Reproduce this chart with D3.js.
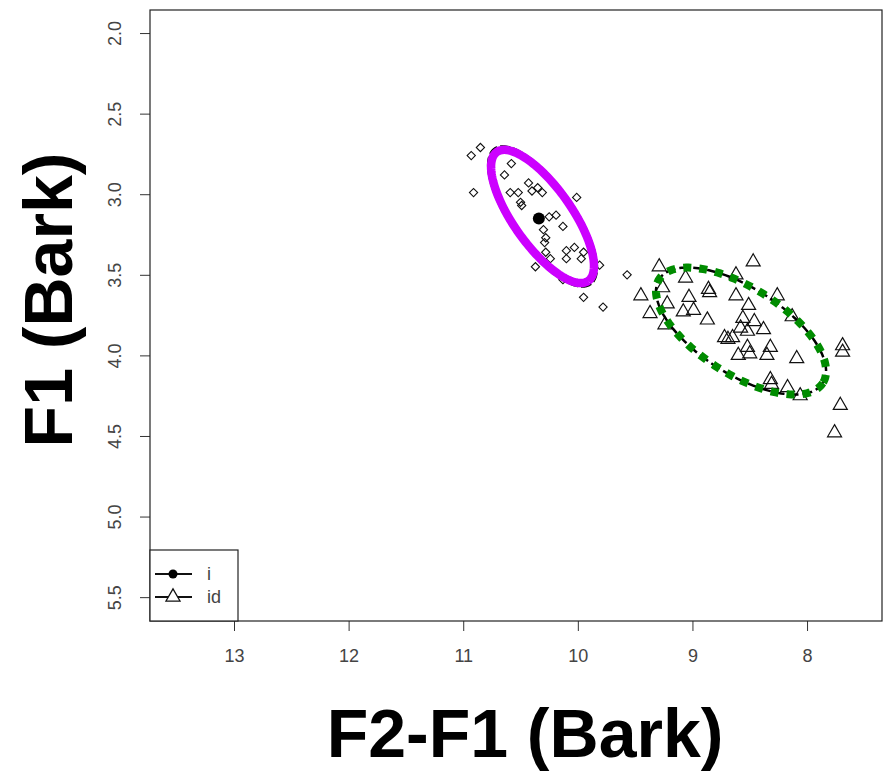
<!DOCTYPE html>
<html><head><meta charset="utf-8">
<script src="https://cdn.jsdelivr.net/npm/d3@7"></script>
<style>body{margin:0;background:#fff}svg{display:block}</style>
</head><body>
<svg id="chart" width="884" height="773"></svg>
<script>
// ---- data (F2-F1 Bark on x, F1 Bark on y) ----
const iX = [10.85,10.93,10.58,10.91,10.64,10.59,10.52,10.50,10.49,10.43,10.40,10.35,10.31,10.01,10.25,10.19,10.13,10.30,10.28,10.29,10.28,10.24,10.10,10.03,9.95,10.10,9.97,9.81,10.37,10.13,9.95,9.78,9.57];
const iY = [2.71,2.76,2.81,2.99,2.88,2.99,2.99,3.05,3.07,2.93,2.98,2.96,2.99,3.02,3.14,3.13,3.20,3.22,3.27,3.30,3.36,3.40,3.35,3.33,3.36,3.40,3.40,3.44,3.45,3.53,3.64,3.70,3.50];
const idX = [9.29,8.47,8.62,9.06,9.26,9.45,9.03,8.86,8.85,8.62,8.26,8.51,9.22,9.37,9.08,8.99,8.87,9.24,8.56,8.46,8.58,8.52,8.38,8.13,8.72,8.65,8.69,8.52,8.32,8.60,8.50,8.35,8.09,7.69,7.69,8.32,8.31,8.17,8.06,7.71,7.76];
const idY = [3.45,3.42,3.50,3.52,3.58,3.63,3.64,3.59,3.61,3.63,3.63,3.69,3.68,3.74,3.73,3.72,3.78,3.81,3.77,3.79,3.83,3.85,3.84,3.76,3.89,3.89,3.90,3.95,3.95,4.00,3.99,4.00,4.02,3.94,3.98,4.15,4.18,4.20,4.25,4.31,4.48];
const iMean = [10.34, 3.15];
// ellipses: center, semi-major vector, semi-minor vector (data units)
const iEllipse  = {c:[10.308,3.138], u:[-0.399,0.400], v:[0.206,0.104]};
const idEllipse = {c:[8.576,3.849],  u:[-0.714,0.322], v:[0.202,0.227]};
const xTicks = [13,12,11,10,9,8];
const yTicks = [2.0,2.5,3.0,3.5,4.0,4.5,5.0,5.5];
const legendLabels = ["i","id"];
const xTitle = "F2-F1 (Bark)";
const yTitle = "F1 (Bark)";

// ---- layout ----
const L=150, T=10, R=882, B=621;
const svg = d3.select("#chart");
const x = d3.scaleLinear().domain([13.733,7.346]).range([L,R]);
const y = d3.scaleLinear().domain([1.857,5.648]).range([T,B]);
const font = "Liberation Sans, Arial, Helvetica, sans-serif";

// axes
const xAxis = d3.axisBottom(x).tickValues(xTicks).tickSize(10).tickPadding(18).tickFormat(d3.format("d"));
const gx = svg.append("g").attr("transform",`translate(0,${B})`).call(xAxis);
gx.select(".domain").remove();
gx.selectAll("line").attr("stroke","#333").attr("stroke-width",1);
gx.selectAll("text").attr("font-family",font).attr("font-size",18).attr("fill","#444");

const yAxis = d3.axisLeft(y).tickValues(yTicks).tickSize(10).tickFormat(d3.format(".1f"));
const gy = svg.append("g").attr("transform",`translate(${L},0)`).call(yAxis);
gy.select(".domain").remove();
gy.selectAll("line").attr("stroke","#333").attr("stroke-width",1);
gy.selectAll(".tick text").attr("font-family",font).attr("font-size",18).attr("fill","#444")
  .attr("text-anchor","middle").attr("dy","0.35em").attr("x",0).attr("y",0)
  .attr("transform","translate(-35,0) rotate(-90)");

// box
svg.append("rect").attr("x",L).attr("y",T).attr("width",R-L).attr("height",B-T)
  .attr("fill","none").attr("stroke","#222").attr("stroke-width",1.2);

// ellipse path generator
function ellipsePts(e){
  return d3.range(0,361,2).map(a=>{
    const t=a*Math.PI/180;
    return [x(e.c[0]+Math.cos(t)*e.u[0]+Math.sin(t)*e.v[0]),
            y(e.c[1]+Math.cos(t)*e.u[1]+Math.sin(t)*e.v[1])];
  });
}
const line = d3.line();
function scaled(e,s1,s2){return {c:e.c,u:[e.u[0]*s1,e.u[1]*s1],v:[e.v[0]*s2,e.v[1]*s2]};}

// points i (diamonds)
const diamond = d3.symbol().type(d3.symbolSquare).size(34);
svg.append("g").selectAll("path").data(iX.map((v,k)=>[v,iY[k]])).join("path")
  .attr("d",diamond).attr("transform",d=>`translate(${x(d[0])},${y(d[1])}) rotate(45)`)
  .attr("fill","none").attr("stroke","#111").attr("stroke-width",1.1);

// points id (triangles)
const tri = d3.symbol().type(d3.symbolTriangle).size(85);
svg.append("g").selectAll("path").data(idX.map((v,k)=>[v,idY[k]])).join("path")
  .attr("d",tri).attr("transform",d=>`translate(${x(d[0])},${y(d[1])})`)
  .attr("fill","none").attr("stroke","#111").attr("stroke-width",1.2);

// black dashed ellipses underneath
svg.append("path").attr("d",line(ellipsePts(scaled(iEllipse,1.05,1.08))))
  .attr("fill","none").attr("stroke","#000").attr("stroke-width",2.5).attr("stroke-dasharray","10,3");
svg.append("path").attr("d",line(ellipsePts(idEllipse)))
  .attr("fill","none").attr("stroke","#000").attr("stroke-width",2.5).attr("stroke-dasharray","10,4");

// magenta ellipse
svg.append("path").attr("d",line(ellipsePts(iEllipse)))
  .attr("fill","none").attr("stroke","#cc00ff").attr("stroke-width",8.5);
// green dotted ellipse
svg.append("path").attr("d",line(ellipsePts(idEllipse)))
  .attr("fill","none").attr("stroke","#008c00").attr("stroke-width",8).attr("stroke-dasharray","8,8");

// mean of i
svg.append("circle").attr("cx",x(iMean[0])).attr("cy",y(iMean[1])).attr("r",6).attr("fill","#000");

// legend
const lg = svg.append("g");
lg.append("rect").attr("x",L).attr("y",550).attr("width",88).attr("height",B-550)
  .attr("fill","#fff").attr("stroke","#222").attr("stroke-width",1.2);
legendLabels.forEach((lab,k)=>{
  const yy = 574 + k*23;
  lg.append("line").attr("x1",155).attr("x2",192).attr("y1",yy).attr("y2",yy).attr("stroke","#111").attr("stroke-width",2);
  if(k===0) lg.append("circle").attr("cx",173).attr("cy",yy).attr("r",4.5).attr("fill","#000");
  else lg.append("path").attr("d",tri).attr("transform",`translate(173,${yy})`).attr("fill","#fff").attr("stroke","#111").attr("stroke-width",1.3);
  lg.append("text").attr("x",207).attr("y",yy).attr("dy","0.35em").attr("font-family",font)
    .attr("font-size",18).attr("fill","#444").text(lab);
});

// titles
svg.append("text").attr("x",525).attr("y",757).attr("text-anchor","middle")
  .attr("font-family",font).attr("font-weight","bold").attr("font-size",68).attr("fill","#000").text(xTitle);
svg.append("text").attr("transform","translate(72,300) rotate(-90)").attr("text-anchor","middle")
  .attr("font-family",font).attr("font-weight","bold").attr("font-size",68).attr("fill","#000").text(yTitle);
</script>
</body></html>
